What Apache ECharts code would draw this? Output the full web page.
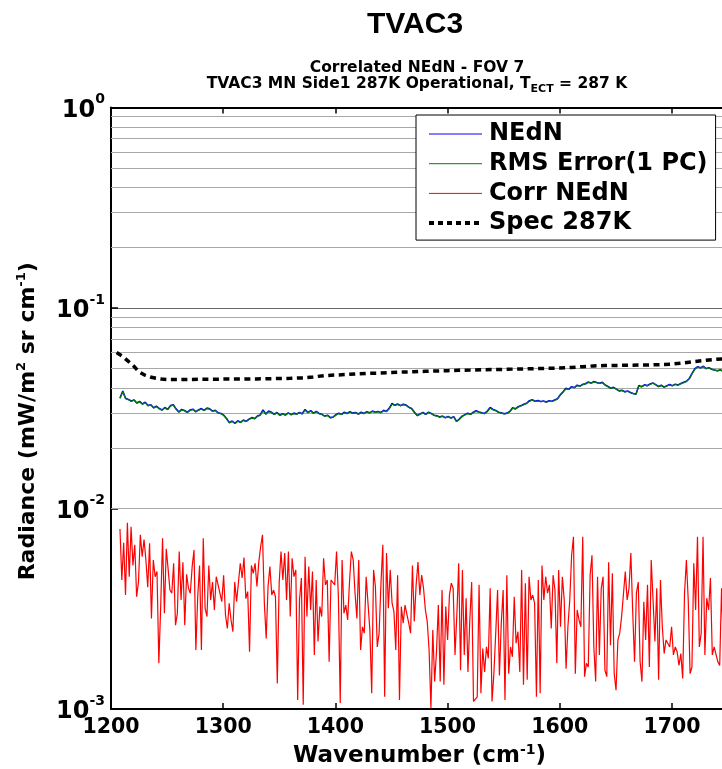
<!DOCTYPE html>
<html><head><meta charset="utf-8">
<script src="https://cdn.jsdelivr.net/npm/echarts@6/dist/echarts.min.js"></script>
<style>html,body{margin:0;padding:0;background:#fff}#c{width:722px;height:769px}</style>
</head><body><div id="c"></div>
<script>
// ---- data (radiance values in units of 1e-3 mW/m2 sr cm-1) ----
const nednStart = 1208, nednStep = 2.5;
const nedn = [35.6,38.5,35.5,35.0,34.4,34.8,33.6,34.2,33.2,33.9,
32.6,32.9,31.8,32.4,31.5,31.0,31.9,31.2,32.6,32.9,
31.4,30.3,31.2,30.8,30.2,31.0,31.3,30.4,31.0,31.5,
30.9,31.7,31.4,30.6,30.9,30.0,29.8,29.2,28.1,26.8,
27.3,26.6,27.4,26.9,27.6,27.2,27.9,28.4,28.1,28.9,
29.3,31.0,29.6,30.6,30.2,29.5,30.1,29.2,29.7,29.3,
30.0,29.4,29.9,29.6,30.1,29.7,31.2,30.1,30.8,29.9,
30.5,29.8,29.5,28.9,29.2,28.4,28.6,29.4,29.9,29.5,
30.2,29.8,30.4,29.9,30.1,29.6,30.2,29.8,30.4,30.0,
30.6,30.2,30.5,30.1,30.9,30.5,31.6,33.4,32.7,33.2,
32.6,33.1,32.8,32.0,31.5,30.2,29.1,29.6,30.1,29.5,
30.2,29.8,29.2,29.0,28.6,28.9,28.4,28.8,28.3,28.7,
27.2,27.9,28.9,29.4,29.9,29.5,30.2,30.7,30.3,30.0,
29.8,30.6,31.9,31.2,30.8,30.2,30.0,29.7,29.9,30.5,
31.8,31.4,32.2,32.6,33.1,33.5,34.5,34.9,34.3,34.6,
34.2,34.4,34.0,34.5,34.3,34.8,35.3,36.9,38.2,39.8,
39.3,40.5,40.1,41.2,40.8,41.6,41.9,42.8,42.2,43.0,
42.5,42.1,42.6,41.3,40.6,39.8,40.2,39.4,38.6,38.9,
38.2,38.6,37.9,37.5,37.2,41.1,40.5,41.4,41.0,41.8,
42.3,41.5,40.6,41.2,40.3,40.9,41.5,41.0,41.7,41.3,
42.0,42.6,43.1,44.5,47.2,49.8,51.0,50.3,51.2,49.9,
50.4,49.5,49.1,48.6,49.2,48.4,48.8,48.5];
const rmsErr = [35.4,38.2,35.3,34.9,34.2,34.7,33.5,34.0,33.1,33.7,
32.5,32.8,31.7,32.2,31.4,30.9,31.7,31.1,32.4,32.8,
31.3,30.2,31.0,30.7,30.1,30.8,31.2,30.3,30.9,31.3,
30.8,31.5,31.3,30.5,30.8,29.9,29.7,29.1,28.0,26.7,
27.2,26.5,27.2,26.8,27.5,27.1,27.8,28.2,28.0,28.8,
29.2,30.7,29.5,30.4,30.1,29.4,30.0,29.1,29.6,29.2,
29.9,29.3,29.7,29.5,30.0,29.6,30.9,30.0,30.6,29.8,
30.4,29.7,29.4,28.8,29.1,28.3,28.5,29.2,29.7,29.4,
30.0,29.7,30.2,29.8,30.0,29.5,30.0,29.7,30.3,29.9,
30.5,30.1,30.4,30.0,30.7,30.4,31.4,33.1,32.6,33.0,
32.5,32.9,32.7,31.9,31.4,30.1,29.0,29.5,30.0,29.4,
30.1,29.7,29.1,28.9,28.5,28.8,28.3,28.7,28.2,28.6,
27.1,27.8,28.7,29.3,29.7,29.4,30.1,30.5,30.2,29.9,
29.7,30.4,31.6,31.1,30.7,30.1,29.9,29.6,29.8,30.3,
31.6,31.3,32.0,32.5,32.9,33.4,34.2,34.8,34.2,34.4,
34.1,34.3,33.9,34.3,34.2,34.6,35.2,36.7,38.0,39.5,
39.2,40.3,40.0,41.0,40.7,41.4,41.8,42.5,42.1,42.8,
42.4,42.0,42.4,41.2,40.5,39.7,40.0,39.3,38.5,38.8,
38.1,38.4,37.8,37.4,37.1,40.8,40.4,41.2,40.9,41.6,
42.1,41.4,40.5,41.0,40.2,40.8,41.3,40.9,41.5,41.2,
41.9,42.4,43.0,44.3,47.0,49.5,50.8,50.2,51.0,49.8,
50.2,49.4,49.0,48.5,49.0,48.3,48.7,48.4];
const corrStart = 1208, corrStep = 1.65;
const corrNedn = [7.9,4.4,6.75,3.7,8.5,4.57,8.1,5.2,6.6,3.63,
4.3,7.4,5.75,7.0,5.54,4.05,6.7,2.83,5.54,4.57,
4.85,1.69,3.24,7.1,3.0,6.3,5.0,3.92,3.78,5.33,
2.62,3.0,6.1,3.5,5.4,2.62,4.7,4.0,3.78,5.13,
6.2,1.97,3.63,5.2,1.97,7.1,3.18,2.89,5.2,3.5,
4.3,3.12,4.57,4.5,3.78,3.43,4.65,2.95,2.52,3.37,
2.78,2.43,4.3,3.43,3.5,5.33,4.5,5.7,3.55,3.85,
1.93,5.2,4.75,5.33,4.08,5.4,6.45,7.4,3.37,2.25,
4.08,5.13,3.7,3.92,3.63,1.34,4.24,6.1,4.4,6.0,
3.5,6.1,2.89,5.65,4.57,4.94,1.11,3.5,4.5,1.05,
5.75,2.89,5.13,3.12,4.85,1.86,4.4,2.17,3.24,2.89,
5.65,4.16,4.4,1.72,4.4,4.5,4.16,6.1,3.63,1.07,
5.54,3.0,3.3,2.78,4.3,6.1,5.54,3.78,2.83,5.54,
1.97,2.57,2.39,4.57,4.5,2.48,1.2,4.94,4.08,2.04,
2.39,4.24,6.6,1.15,6.0,3.18,4.94,3.37,3.06,
1.97,4.65,1.11,3.24,2.68,3.3,3.37,2.68,2.39,5.2,
2.73,4.16,5.4,3.7,4.65,4.0,3.12,2.73,1.97,1.01,
2.48,1.37,1.93,3.3,1.37,3.92,1.32,3.24,2.21,3.7,
4.24,4.0,1.86,2.95,5.33,1.56,4.94,1.86,3.57,1.53,
2.78,4.3,1.09,1.09,1.15,4.16,1.2,2.0,1.53,2.04,
1.79,4.0,1.09,1.5,2.39,3.92,1.47,2.68,3.92,1.11,
4.65,1.5,2.04,1.82,3.63,2.13,2.43,1.53,4.94,1.32,
4.24,1.4,4.57,3.5,3.7,3.37,1.15,4.4,1.2,5.2,
3.5,4.57,3.78,4.16,2.52,4.65,3.92,1.69,4.94,2.57,
4.57,3.5,1.59,2.57,3.5,5.85,7.23,1.5,3.12,2.78,
2.57,7.23,1.45,1.69,1.62,4.65,5.85,2.04,1.37,4.57,
1.86,4.0,4.57,1.56,1.45,5.4,2.08,4.75,1.5,1.24,
2.21,2.39,2.89,2.95,4.85,3.5,4.0,6.0,3.06,1.72,
3.78,4.3,1.72,1.37,3.43,2.21,4.16,1.62,5.54,3.5,
2.17,4.0,1.4,4.4,2.57,1.89,2.21,2.17,2.04,2.57,
1.86,2.04,1.93,1.65,1.89,1.42,3.78,5.54,3.5,1.5,
1.62,5.33,3.12,7.23,2.04,2.39,7.23,1.86,3.57,3.12,
4.5,1.86,2.04,2.0,1.72,1.65,4.0,2.0];
const specWn = [1205,1210,1215,1220,1225,1230,1235,1240,1245,1250,1260,1270,1280,1290,1300,1310,1320,1330,1340,1350,1360,1370,1380,1390,1400,1410,1420,1430,1440,1450,1460,1470,1480,1490,1500,1510,1520,1530,1540,1550,1560,1570,1580,1590,1600,1610,1620,1630,1640,1650,1660,1670,1680,1690,1700,1710,1720,1730,1740,1750];
const specVal = [60.0,57.5,54.5,51.5,48.0,46.3,45.3,44.6,44.2,44.0,44.0,44.0,44.1,44.1,44.2,44.2,44.3,44.3,44.4,44.5,44.6,44.8,45.3,46.0,46.3,46.6,46.9,47.2,47.4,47.7,47.9,48.1,48.3,48.5,48.7,48.9,49.0,49.2,49.3,49.4,49.6,49.7,49.9,50.0,50.2,50.5,51.0,51.4,51.6,51.7,51.8,51.9,52.0,52.2,52.5,53.2,54.0,54.8,55.5,56.0];
const seriesNames = ['NEdN','RMS Error(1 PC)','Corr NEdN','Spec 287K'];
const gridDecades = [0.001, 0.01, 0.1];
const gridMultipliers = [2,3,4,5,6,7,8,9];

// ---- build ----
const F = 'DejaVu Sans';
const SCALE = 1e-3;
const toPairs = (start, step, arr) => arr.map((v, i) => [start + i * step, v * SCALE]);
const minorLines = [];
gridDecades.forEach(d => gridMultipliers.forEach(m => minorLines.push({ yAxis: +(d * m).toPrecision(3) })));

const chart = echarts.init(document.getElementById('c'), null, { renderer: 'canvas' });
const axisBase = {
  axisLine: { show: true, onZero: false, lineStyle: { color: '#000', width: 2 } },
  splitLine: { show: false }
};
const hiddenSymbol = { color: 'rgba(0,0,0,0)', borderWidth: 0, opacity: 0 };
const option = {
  animation: false,
  backgroundColor: '#fff',
  graphic: [
    { type: 'text', x: 415, y: 25, style: { text: 'TVAC3', align: 'center', verticalAlign: 'middle', fontFamily: 'Liberation Sans', fontWeight: 'bold', fontSize: 30, fill: '#000' } },
    { type: 'text', x: 417, y: 68, style: { text: 'Correlated NEdN - FOV 7', align: 'center', verticalAlign: 'middle', fontFamily: F, fontWeight: 'bold', fontSize: 15.5, fill: '#000' } },
    { type: 'text', x: 417, y: 84, style: {
        text: '{n|TVAC3 MN Side1 287K Operational, T}{s|ECT}{n| = 287 K}', align: 'center', verticalAlign: 'middle', fill: '#000',
        rich: { n: { fontFamily: F, fontWeight: 'bold', fontSize: 15.5, lineHeight: 22, fill: '#000' },
                s: { fontFamily: F, fontWeight: 'bold', fontSize: 11, lineHeight: 12, verticalAlign: 'bottom', fill: '#000' } } } }
  ],
  grid: { left: 111, top: 107.5, width: 617, height: 601.5, containLabel: false, outerBoundsMode: 'none' },
  legend: {
    z: 50, zlevel: 0,
    orient: 'vertical', left: 416, top: 115, padding: [7, 8, 5, 11], itemGap: 5.7, itemWidth: 53, itemHeight: 14,
    backgroundColor: '#fff', borderColor: '#000', borderWidth: 1, borderRadius: 0, selectedMode: false,
    textStyle: { color: '#000', fontFamily: F, fontWeight: 'bold', fontSize: 24, lineHeight: 24, padding: [0, 0, 0, 2] },
    data: [
      { name: seriesNames[0], lineStyle: { width: 1 }, itemStyle: hiddenSymbol },
      { name: seriesNames[1], lineStyle: { width: 1 }, itemStyle: hiddenSymbol },
      { name: seriesNames[2], lineStyle: { width: 1 }, itemStyle: hiddenSymbol },
      { name: seriesNames[3], lineStyle: { width: 4, type: [5, 4] }, itemStyle: hiddenSymbol }
    ]
  },
  xAxis: [
    Object.assign({}, axisBase, {
      type: 'value', min: 1200, max: 1750, interval: 100, position: 'bottom',
      axisTick: { show: true, inside: true, length: 6, lineStyle: { color: '#000', width: 1.5 } },
      axisLabel: { show: true, margin: 8, color: '#000', fontFamily: F, fontWeight: 'bold', fontSize: 20.5, formatter: v => String(v) },
      name: 'Wavenumber (cm{s|-1})', nameLocation: 'middle', nameGap: 34,
      nameTextStyle: { color: '#000', fontFamily: F, fontWeight: 'bold', fontSize: 23, lineHeight: 26,
        rich: { s: { color: '#000', fontFamily: F, fontWeight: 'bold', fontSize: 14, lineHeight: 14, verticalAlign: 'top' } } }
    }),
    Object.assign({}, axisBase, {
      type: 'value', min: 1200, max: 1750, interval: 100, position: 'top',
      axisTick: { show: true, inside: true, length: 6, lineStyle: { color: '#000', width: 1.5 } },
      axisLabel: { show: false }
    })
  ],
  yAxis: Object.assign({}, axisBase, {
    type: 'log', logBase: 10, min: 0.001, max: 1,
    axisTick: { show: true, inside: true, length: 7, lineStyle: { color: '#000', width: 1.5 } },
    splitLine: { show: true, lineStyle: { color: '#666', width: 1 } },
    axisLabel: {
      show: true, margin: 6, color: '#000',
      formatter: v => '{a|10}{b|' + Math.round(Math.log10(v)) + '}',
      rich: { a: { fontFamily: F, fontWeight: 'bold', fontSize: 24, lineHeight: 30, verticalAlign: 'bottom', color: '#000' },
              b: { fontFamily: F, fontWeight: 'bold', fontSize: 14, lineHeight: 14, verticalAlign: 'top', color: '#000' } }
    },
    name: 'Radiance (mW/m{s|2} sr cm{s|-1})', nameLocation: 'middle', nameGap: 70,
    nameTextStyle: { color: '#000', fontFamily: F, fontWeight: 'bold', fontSize: 22, lineHeight: 26, padding: [0, 26, 0, 0],
      rich: { s: { color: '#000', fontFamily: F, fontWeight: 'bold', fontSize: 13, lineHeight: 13, verticalAlign: 'top' } } }
  }),
  series: [
    { type: 'line', data: [], z: 1, silent: true,
      markLine: { silent: true, symbol: 'none', animation: false, label: { show: false }, z: 1,
        lineStyle: { color: '#a8a8a8', type: 'solid', width: 1 }, emphasis: { disabled: true }, data: minorLines } },
    { name: seriesNames[0], type: 'line', symbol: 'none', z: 3, data: toPairs(nednStart, nednStep, nedn),
      lineStyle: { color: '#0000ff', width: 1.6 }, itemStyle: { color: '#0000ff' } },
    { name: seriesNames[1], type: 'line', symbol: 'none', z: 4, data: toPairs(nednStart, nednStep, rmsErr),
      lineStyle: { color: '#008000', width: 1.1 }, itemStyle: { color: '#008000' } },
    { name: seriesNames[2], type: 'line', symbol: 'none', z: 3, data: toPairs(corrStart, corrStep, corrNedn),
      lineStyle: { color: '#ff0000', width: 1.2 }, itemStyle: { color: '#ff0000' } },
    { name: seriesNames[3], type: 'line', symbol: 'none', z: 5, data: specWn.map((w, i) => [w, specVal[i] * SCALE]),
      lineStyle: { color: '#000', width: 3.5, type: [6, 4.5], cap: 'butt' }, itemStyle: { color: '#000' } }
  ]
};
chart.setOption(option);
</script></body></html>
